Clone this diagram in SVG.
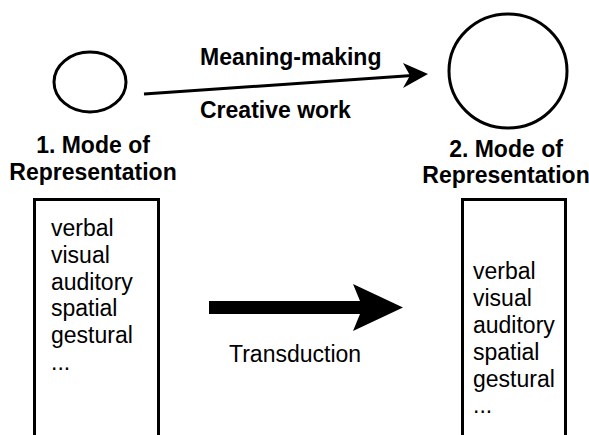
<svg xmlns="http://www.w3.org/2000/svg" width="589" height="435" viewBox="0 0 589 435">
<style>
.shape{fill:#fff;stroke:#000;stroke-width:3}
.b{font-family:"Liberation Sans",Arial,sans-serif;font-weight:bold;font-size:23px;fill:#000}
.r{font-family:"Liberation Sans",Arial,sans-serif;font-size:23px;fill:#000}
</style>
<rect width="589" height="435" fill="#fff"/>
<g id="mode1">
<ellipse class="shape" cx="90" cy="82" rx="36" ry="30"/>
<text class="b" x="93" y="153" text-anchor="middle">1. Mode of</text>
<text class="b" x="93" y="180" text-anchor="middle">Representation</text>
</g>
<g id="mode2">
<ellipse class="shape" cx="508" cy="71" rx="59" ry="57"/>
<text class="b" x="506" y="157" text-anchor="middle">2. Mode of</text>
<text class="b" x="506" y="183" text-anchor="middle">Representation</text>
</g>
<g id="list1">
<rect class="shape" x="34.5" y="199.5" width="124" height="240"/>
<text class="r" x="51" y="236">verbal</text>
<text class="r" x="51" y="263">visual</text>
<text class="r" x="51" y="290">auditory</text>
<text class="r" x="51" y="316">spatial</text>
<text class="r" x="51" y="343">gestural</text>
<text class="r" x="51" y="370">...</text>
</g>
<g id="list2">
<rect class="shape" x="462.5" y="199.5" width="103" height="240"/>
<text class="r" x="473" y="279">verbal</text>
<text class="r" x="473" y="306">visual</text>
<text class="r" x="473" y="333">auditory</text>
<text class="r" x="473" y="360">spatial</text>
<text class="r" x="473" y="387">gestural</text>
<text class="r" x="473" y="413">...</text>
</g>
<g id="connectors">
<line x1="144" y1="94" x2="412" y2="75.5" stroke="#000" stroke-width="3"/>
<path d="M403,63 L428,74 L403,88 L410,75.5 Z" fill="#000"/>
<text class="b" x="200" y="65">Meaning-making</text>
<text class="b" x="200" y="118">Creative work</text>
<path d="M209,301 L360,301 L353,284 L403,307.5 L353,331 L360,314 L209,314 Z" fill="#000"/>
<text class="r" x="229" y="362">Transduction</text>
</g>
</svg>
